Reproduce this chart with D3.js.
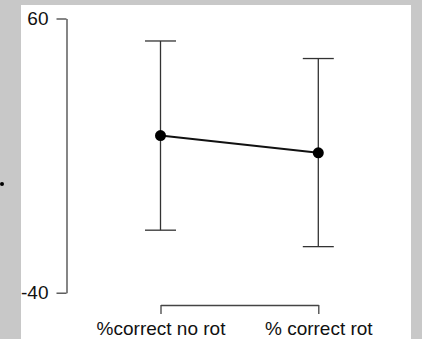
<!DOCTYPE html>
<html>
<head>
<meta charset="utf-8">
<script src="https://cdn.jsdelivr.net/npm/d3@7"></script>
<style>
  html, body { margin: 0; padding: 0; background: #c8c8c8; }
  svg { display: block; }
  .axis text { font-family: "Liberation Sans", Arial, sans-serif; font-size: 19px; fill: #111; }
  .axis path, .axis line { stroke: #444; stroke-width: 1.3px; }
</style>
</head>
<body>
<svg id="chart" width="422" height="339"></svg>
<script>
"use strict";

// conditions on the x axis
var categories = ["%correct no rot", "% correct rot"];
// means and the ends of the error bars
var means = [17.3, 11.0];
var lower = [-17.2, -23.2];
var upper = [51.8, 45.4];
// y tick labels
var yTicks = [60, -40];

var svg = d3.select("#chart");

// white plotting panel over the grey page
svg.append("rect")
  .attr("x", 21).attr("y", 5)
  .attr("width", 390).attr("height", 334)
  .attr("fill", "#fff");

// stray little dot on the grey margin
svg.append("circle")
  .attr("cx", 2).attr("cy", 184).attr("r", 2)
  .attr("fill", "#000");

var x = d3.scalePoint()
  .domain(categories)
  .range([160.5, 318.3]);

var y = d3.scaleLinear()
  .domain([-40, 60])
  .range([292.7, 18.5]);

// plain hyphen for negatives, like the original
var yAxis = svg.append("g")
  .attr("class", "axis")
  .attr("transform", "translate(66.5,0)")
  .call(d3.axisLeft(y).tickValues(yTicks).tickSize(10).tickSizeOuter(0).tickPadding(8)
    .tickFormat(function(d) { return String(d); }));

var xAxis = svg.append("g")
  .attr("class", "axis")
  .attr("transform", "translate(0,305)")
  .call(d3.axisBottom(x).tickSize(9).tickSizeOuter(0).tickPadding(8));

var data = categories.map(function(c, i) {
  return { cat: c, mean: means[i], lo: lower[i], hi: upper[i] };
});

var capHalf = 15.5;
var bars = svg.append("g").attr("class", "errorbars");

bars.selectAll("line.stem")
  .data(data)
  .enter().append("line")
  .attr("class", "stem")
  .attr("x1", function(d) { return x(d.cat); })
  .attr("x2", function(d) { return x(d.cat); })
  .attr("y1", function(d) { return y(d.hi); })
  .attr("y2", function(d) { return y(d.lo); })
  .attr("stroke", "#333").attr("stroke-width", 1.3);

bars.selectAll("line.capTop")
  .data(data)
  .enter().append("line")
  .attr("class", "capTop")
  .attr("x1", function(d) { return x(d.cat) - capHalf; })
  .attr("x2", function(d) { return x(d.cat) + capHalf; })
  .attr("y1", function(d) { return y(d.hi); })
  .attr("y2", function(d) { return y(d.hi); })
  .attr("stroke", "#333").attr("stroke-width", 1.3);

bars.selectAll("line.capBottom")
  .data(data)
  .enter().append("line")
  .attr("class", "capBottom")
  .attr("x1", function(d) { return x(d.cat) - capHalf; })
  .attr("x2", function(d) { return x(d.cat) + capHalf; })
  .attr("y1", function(d) { return y(d.lo); })
  .attr("y2", function(d) { return y(d.lo); })
  .attr("stroke", "#333").attr("stroke-width", 1.3);

var line = d3.line()
  .x(function(d) { return x(d.cat); })
  .y(function(d) { return y(d.mean); });

svg.append("path")
  .datum(data)
  .attr("d", line)
  .attr("fill", "none")
  .attr("stroke", "#111")
  .attr("stroke-width", 2);

svg.selectAll("circle.mean")
  .data(data)
  .enter().append("circle")
  .attr("class", "mean")
  .attr("cx", function(d) { return x(d.cat); })
  .attr("cy", function(d) { return y(d.mean); })
  .attr("r", 5.5)
  .attr("fill", "#000");
</script>
</body>
</html>
